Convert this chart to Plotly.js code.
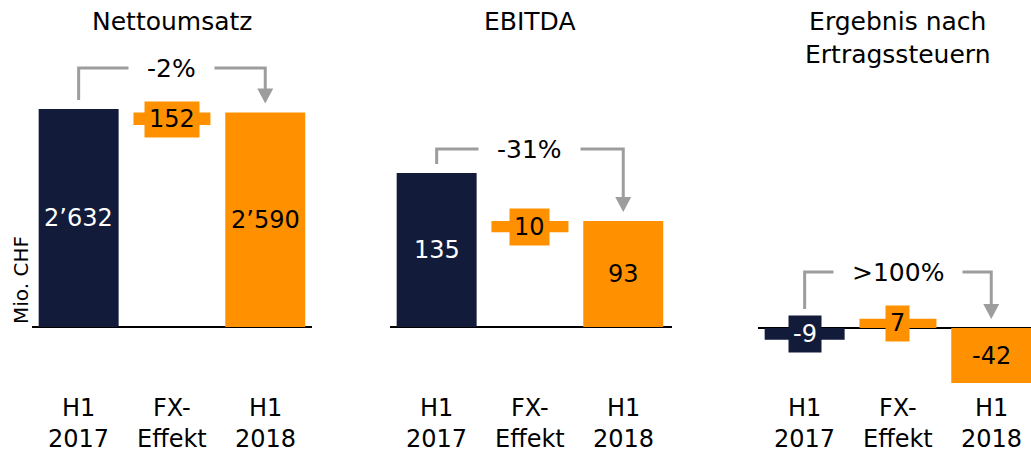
<!DOCTYPE html>
<html>
<head>
<meta charset="utf-8">
<script src="https://cdn.plot.ly/plotly-3.0.1.min.js"></script>
<style>
  html, body { margin: 0; padding: 0; background: #fff; }
  #chart { width: 1031px; height: 452px; }
</style>
</head>
<body>
<div id="chart"></div>
<script>
// data
const categories = ['H1<br>2017', 'FX-<br>Effekt', 'H1<br>2018'];
const panelTitles = ['Nettoumsatz', 'EBITDA', 'Ergebnis nach<br>Ertragssteuern'];
const h1_2017 = [2632, 135, -9];
const fxEffekt = [152, 10, 7];
const fxBase = [2438, 83, 0];
const h1_2018 = [2590, 93, -42];
const changeLabels = ['-2%', '-31%', '>100%'];
const unitLabel = 'Mio. CHF';

// layout geometry (pixels)
const W = 1031, H = 452;
const colStep = 93.3;
const panels = [
  {left: 32, right: 312, zeroPx: 327, pxPerUnit: 218 / 2632, bracketPx: 68},
  {left: 390, right: 672, zeroPx: 327, pxPerUnit: 154 / 135, bracketPx: 149},
  {left: 758, right: 1031, zeroPx: 328, pxPerUnit: 1.31, bracketPx: 272}
];

const NAVY = '#121b3a';
const ORANGE = '#ff9100';
const GREY = '#9d9d9d';
const FONT = 'DejaVu Sans, Verdana, sans-serif';

function fmt(v) {
  return String(v).replace(/\B(?=(\d{3})+(?!\d))/g, '\u2019');
}
function X(px) { return px / W; }
function Y(py) { return 1 - py / H; }

let data = [];
let layout = {
  width: W, height: H,
  margin: {l: 0, r: 0, t: 0, b: 0},
  paper_bgcolor: '#fff', plot_bgcolor: 'rgba(0,0,0,0)',
  showlegend: false,
  font: {family: FONT, size: 24, color: '#000'},
  annotations: [],
  shapes: []
};

panels.forEach(function(p, i) {
  let n = i === 0 ? '' : String(i + 1);
  let xa = 'x' + n, ya = 'y' + n;
  let vals = [h1_2017[i], fxEffekt[i], h1_2018[i]];
  let bases = [0, fxBase[i], 0];
  let colors = [NAVY, ORANGE, ORANGE];

  data.push({
    type: 'bar',
    x: [0, 1, 2],
    y: vals,
    base: bases,
    width: [0.857, 0.825, 0.857],
    marker: {color: colors, line: {width: 0}},
    xaxis: xa, yaxis: ya,
    hoverinfo: 'none'
  });

  layout['xaxis' + n] = {
    domain: [X(p.left), X(p.right)],
    range: [-0.5, -0.5 + (p.right - p.left) / colStep],
    showgrid: false, zeroline: false, showticklabels: false, ticks: '',
    anchor: ya, fixedrange: true
  };
  layout['yaxis' + n] = {
    domain: [0, 1],
    range: [-(H - p.zeroPx) / p.pxPerUnit, p.zeroPx / p.pxPerUnit],
    showgrid: false, showticklabels: false, ticks: '',
    zeroline: true, zerolinecolor: '#000', zerolinewidth: 2,
    anchor: xa, fixedrange: true
  };

  function colPx(k) { return p.left + (k + 0.5) * colStep; }
  function valPx(v) { return p.zeroPx - v * p.pxPerUnit; }

  // value labels, boxed when the bar is too thin for the text
  let boxed = [];
  vals.forEach(function(v, k) {
    let isBoxed = Math.abs(v) * p.pxPerUnit < 30;
    boxed.push(isBoxed);
    layout.annotations.push({
      xref: xa, yref: ya,
      x: k, y: bases[k] + v / 2,
      xanchor: 'center', yanchor: 'middle',
      text: fmt(v),
      showarrow: false,
      font: {size: 24, color: colors[k] === NAVY ? '#fff' : '#000'},
      bgcolor: isBoxed ? colors[k] : 'rgba(0,0,0,0)',
      borderpad: 4
    });
  });

  // category labels
  categories.forEach(function(c, k) {
    layout.annotations.push({
      xref: xa, yref: 'paper',
      x: k, y: Y(423), xanchor: 'center', yanchor: 'middle',
      text: c, showarrow: false,
      font: {size: 24, color: '#000'}
    });
  });

  // panel title
  layout.annotations.push({
    xref: 'paper', yref: 'paper',
    x: X(colPx(1)), y: Y(5), xanchor: 'center', yanchor: 'top',
    text: panelTitles[i], showarrow: false,
    font: {size: 25, color: '#000'}
  });

  // change bracket with arrow
  let x0 = colPx(0), x2 = colPx(2);
  let startTop = boxed[0] ? valPx(vals[0] / 2) - 16 : valPx(Math.max(vals[0], 0));
  let startY = startTop - 9;
  let tipY = valPx(Math.max(vals[2], 0)) - 9;
  let by = p.bracketPx;
  layout.shapes.push({
    type: 'path', xref: 'paper', yref: 'paper',
    path: 'M ' + X(x0) + ',' + Y(startY) + ' L ' + X(x0) + ',' + Y(by) +
          ' L ' + X(x2) + ',' + Y(by) + ' L ' + X(x2) + ',' + Y(tipY - 13),
    line: {color: GREY, width: 3}
  });
  layout.shapes.push({
    type: 'path', xref: 'paper', yref: 'paper',
    path: 'M ' + X(x2 - 8) + ',' + Y(tipY - 15) + ' L ' + X(x2 + 8) + ',' + Y(tipY - 15) +
          ' L ' + X(x2) + ',' + Y(tipY) + ' Z',
    fillcolor: GREY, line: {width: 0}
  });
  layout.annotations.push({
    xref: 'paper', yref: 'paper',
    x: X(colPx(1)), y: Y(by), xanchor: 'center', yanchor: 'middle',
    text: changeLabels[i], showarrow: false,
    font: {size: 25, color: '#000'},
    bgcolor: '#fff', borderpad: 18
  });
});

// unit label
layout.annotations.push({
  xref: 'paper', yref: 'paper',
  x: X(21), y: Y(280), xanchor: 'center', yanchor: 'middle', textangle: -90,
  text: unitLabel, showarrow: false,
  font: {size: 20, color: '#000'}
});

Plotly.newPlot('chart', data, layout, {staticPlot: true, displayModeBar: false});
</script>
</body>
</html>
